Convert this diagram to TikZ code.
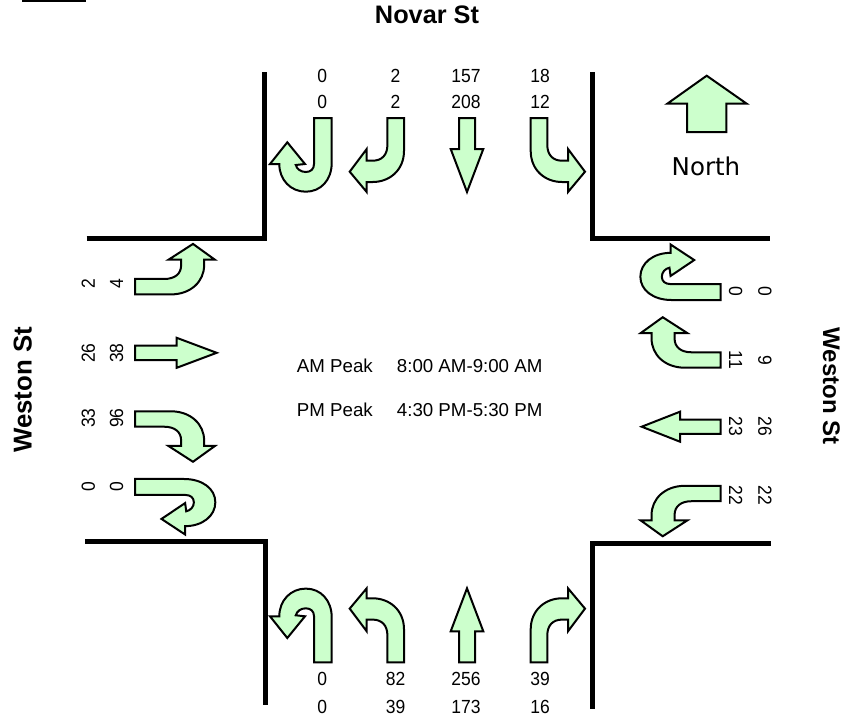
\documentclass[tikz,border=0pt]{standalone}
\usepackage{fontspec}
\setmainfont{Liberation Sans}
\newfontfamily\northfont{DejaVu Sans}
\newfontfamily\countfont[FakeStretch=0.92]{Liberation Sans}
\definecolor{lanegreen}{RGB}{204,255,204}
\tikzset{
  wall/.style={line width=5, line cap=butt, line join=miter},
  lanearrow/.style={draw=black, fill=lanegreen, line width=2, line join=miter},
  count/.style={font=\fontsize{19}{19}\countfont, inner sep=0},
  street/.style={font=\fontsize{#1}{#1}\selectfont\bfseries, inner sep=0},
  peak/.style={font=\fontsize{18.7}{18.7}\selectfont, inner sep=0, anchor=base west}
}
% turning arrow, tail centre at the origin, heading along +y
\newcommand{\turnarrow}[1]{
  \draw[lanearrow, #1] (-8.3,0) -- (-8.3,33)
  .. controls (-8.3,52) and (6,64) .. (23,64) -- (29,64) -- (29,74) -- (46,53.7) -- (29,31)
  -- (29,42.7) -- (23,42.7) .. controls (14,42.7) and (8.3,37) .. (8.3,27) -- (8.3,0) -- cycle;
}
% u-turn arrow, same frame
\newcommand{\uturnarrow}[1]{
  \draw[lanearrow, #1] (8.9,0) -- (8.9,45)
  .. controls (8.9,62) and (-2,73.7) .. (-17,73.7) .. controls (-32,73.7) and (-43.5,62) .. (-43.5,46)
  -- (-52.8,46) -- (-35.5,24.3) -- (-17.8,46) -- (-27,47)
  .. controls (-26,51) and (-22,54) .. (-17,54) .. controls (-12,54) and (-8.8,51) .. (-8.8,46)
  -- (-8.8,0) -- cycle;
}
% straight arrow: options, half shaft, head start, half head, tip
\newcommand{\thruarrow}[5]{
  \draw[lanearrow, #1] (-#2,0) -- (-#2,#3) -- (-#4,#3) -- (0,#5) -- (#4,#3) -- (#2,#3) -- (#2,0) -- cycle;
}
\begin{document}
\begin{tikzpicture}[x=1pt,y=-1pt]
  \useasboundingbox (0,0) rectangle (846,720);

  % top bar
  \fill (22,0) rectangle (86,2);

  % corners
  \draw[wall] (86.5,238) -- (264.5,238) -- (264.5,72);
  \draw[wall] (769.5,238) -- (592,238) -- (592,72);
  \draw[wall] (85,541) -- (265,541) -- (265,705);
  \draw[wall] (770.5,543) -- (592.5,543) -- (592.5,709);

  % south bound
  \uturnarrow{shift={(322.8,118)}}
  \turnarrow{shift={(395.7,118)}, xscale=-1}
  \thruarrow{shift={(467,118)}}{8}{31}{16.3}{74}
  \turnarrow{shift={(539,118)}}

  % north bound
  \uturnarrow{shift={(322.8,662.3)}, yscale=-1}
  \turnarrow{shift={(395.7,662.3)}, yscale=-1, xscale=-1}
  \thruarrow{shift={(467,662.3)}, yscale=-1}{8}{31}{16.3}{74}
  \turnarrow{shift={(539,662.3)}, yscale=-1}

  % east bound
  \turnarrow{shift={(135,286.7)}, rotate=90, xscale=.93, yscale=1.08}
  \thruarrow{shift={(135,352.8)}, rotate=90}{7.2}{41.7}{15}{81.7}
  \turnarrow{shift={(135,419)}, rotate=90, xscale=-.93, yscale=1.08}
  \uturnarrow{shift={(135,487)}, rotate=90, xscale=.9, yscale=1.09}

  % west bound
  \uturnarrow{shift={(720.7,292)}, rotate=-90, xscale=.9, yscale=1.09}
  \turnarrow{shift={(720.7,360)}, rotate=-90, xscale=-.93, yscale=1.08}
  \thruarrow{shift={(720.7,426.7)}, rotate=-90}{7.2}{40.7}{15}{79}
  \turnarrow{shift={(720.7,493.5)}, rotate=-90, xscale=.93, yscale=1.08}

  % north sign
  \draw[lanearrow] (706.7,75.7) -- (746.7,103.7) -- (726.3,103.7) -- (726.3,132) -- (687,132)
  -- (687,103.7) -- (667.3,103.7) -- cycle;
  \node[font=\fontsize{24.5}{24.5}\northfont, inner sep=0, anchor=base] (northlabel) at (706,175) {North};

  % street names
  \node[street=25.3, anchor=base] (novar) at (427,23.3) {Novar St};
  \node[street=25.8, anchor=base, rotate=90] (westonw) at (31.7,390) {Weston St};
  \node[street=24, anchor=base, rotate=-90] (westone) at (823,386) {Weston St};

  % peak hours
  \node[peak] (ampeak) at (296.7,372.7) {AM Peak};
  \node[peak] (amtime) at (396.7,372.7) {8:00 AM-9:00 AM};
  \node[peak] (pmpeak) at (296.7,416.7) {PM Peak};
  \node[peak] (pmtime) at (396.7,416.7) {4:30 PM-5:30 PM};

  % counts, top and bottom
  \foreach \x/\a/\b/\c/\d in {322.3/0/0/0/0, 395.5/2/2/82/39, 466/157/208/256/173, 540/18/12/39/16} {
    \node[count] at (\x,76) {\a};
    \node[count] at (\x,102.3) {\b};
    \node[count] at (\x,679) {\c};
    \node[count] at (\x,706.7) {\d};
  }
  % counts, left
  \foreach \y/\a/\b in {284/2/4, 353/26/38, 418/33/96, 486.7/0/0} {
    \node[count, rotate=90] at (88.3,\y) {\a};
    \node[count, rotate=90] at (116.7,\y) {\b};
  }
  % counts, right
  \foreach \y/\a/\b in {291.7/0/0, 360/11/9, 426.7/23/26, 495/22/22} {
    \node[count, rotate=-90] at (735.7,\y) {\a};
    \node[count, rotate=-90] at (765,\y) {\b};
  }
\end{tikzpicture}
\end{document}
